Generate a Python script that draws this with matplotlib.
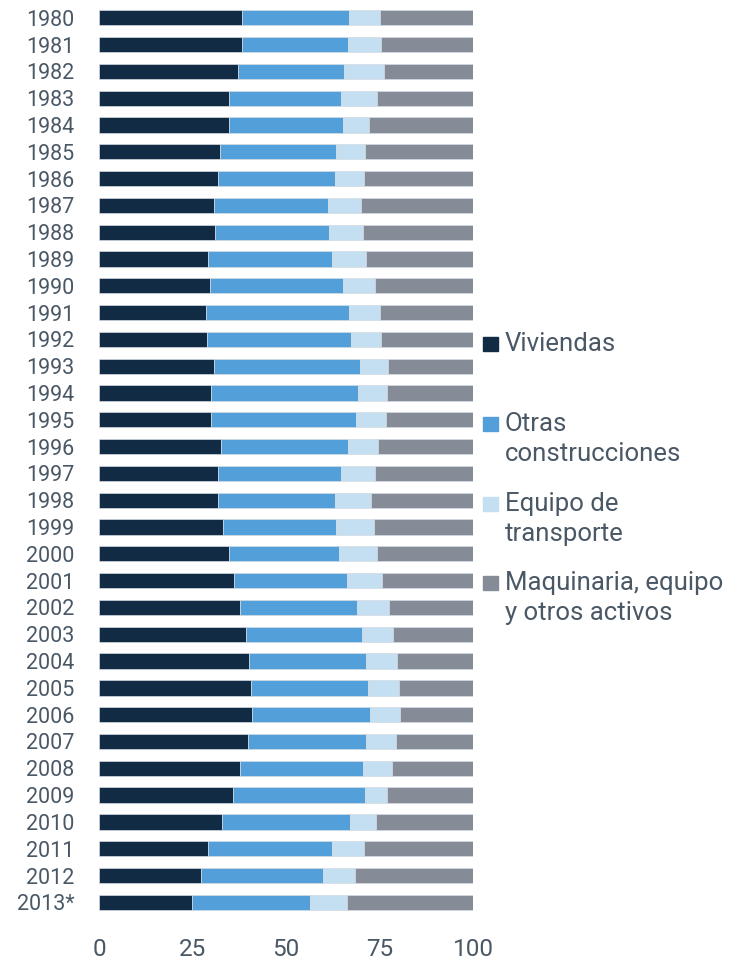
import matplotlib.pyplot as plt
from matplotlib.patches import Rectangle
import numpy as np

years = ['1980', '1981', '1982', '1983', '1984', '1985', '1986', '1987', '1988', '1989',
         '1990', '1991', '1992', '1993', '1994', '1995', '1996', '1997', '1998', '1999',
         '2000', '2001', '2002', '2003', '2004', '2005', '2006', '2007', '2008', '2009',
         '2010', '2011', '2012', '2013*']

# shares (%)
viviendas = [38.1, 38.3, 37.2, 34.8, 34.7, 32.3, 31.7, 30.7, 30.9, 29.1,
             29.6, 28.5, 28.9, 30.7, 29.9, 29.9, 32.5, 31.7, 31.9, 33.0,
             34.7, 36.0, 37.7, 39.2, 40.0, 40.5, 40.8, 39.8, 37.7, 35.7,
             32.8, 29.1, 27.2, 24.8]
otras_constr = [28.7, 28.2, 28.2, 29.8, 30.5, 31.0, 31.3, 30.4, 30.5, 33.1,
                35.6, 38.4, 38.5, 39.0, 39.4, 38.7, 34.0, 32.9, 31.1, 30.3,
                29.4, 30.2, 31.2, 31.0, 31.3, 31.3, 31.6, 31.5, 32.8, 35.3,
                34.2, 33.2, 32.8, 31.6]
equipo_transp = [8.2, 8.8, 10.7, 9.8, 7.1, 7.7, 7.9, 9.0, 9.2, 9.2,
                 8.5, 8.2, 8.1, 7.6, 7.8, 8.0, 8.1, 9.2, 9.8, 10.2,
                 10.2, 9.5, 8.5, 8.5, 8.3, 8.4, 8.2, 8.1, 7.8, 5.9,
                 7.0, 8.5, 8.5, 9.9]
maquinaria = [round(100 - a - b - c, 1) for a, b, c in zip(viviendas, otras_constr, equipo_transp)]

labels = [['Viviendas'], ['Otras', 'construcciones'], ['Equipo de', 'transporte'],
          ['Maquinaria, equipo', 'y otros activos']]
colors = ['#122b44', '#529fd9', '#c5dff2', '#868b98']
series = [viviendas, otras_constr, equipo_transp, maquinaria]

text_color = '#4a5866'

fig = plt.figure(figsize=(7.31, 9.63), dpi=100)
ax = fig.add_axes([0.1358, 0.0491, 0.5112, 0.9464])

y = np.arange(len(years))
left = np.zeros(len(years))
for vals, col in zip(series, colors):
    ax.barh(y, vals, left=left, height=0.57, color=col,
            edgecolor='#d4dbe2', linewidth=0.5)
    left += np.array(vals)

ax.set_xlim(0, 100)
ax.set_ylim(len(years) - 0.5, -0.5)
ax.set_xticks([0, 25, 50, 75, 100])
ax.set_yticks(y)
ax.set_yticklabels(years, fontsize=15.5, color=text_color, family='Roboto')
ax.tick_params(axis='y', length=0, pad=18)
ax.tick_params(axis='x', length=0, pad=16, labelsize=17.5, labelcolor=text_color)
for lab in ax.get_xticklabels():
    lab.set_family('Roboto')
for s in ax.spines.values():
    s.set_visible(False)

# legend drawn by hand so the square sits on the first line
W, H = 731, 963
first_line_y = [344, 424, 504, 583]
for lines, col, yc in zip(labels, colors, first_line_y):
    fig.add_artist(Rectangle((483 / W, 1 - (yc + 7.3) / H), 14.5 / W, 14.5 / H,
                             transform=fig.transFigure, color=col))
    for i, line in enumerate(lines):
        fig.text(505 / W, 1 - (yc + 30 * i) / H, line, fontsize=18.5,
                 color=text_color, va='center', ha='left', family='Roboto')

fig.savefig('out.png', dpi=100)
